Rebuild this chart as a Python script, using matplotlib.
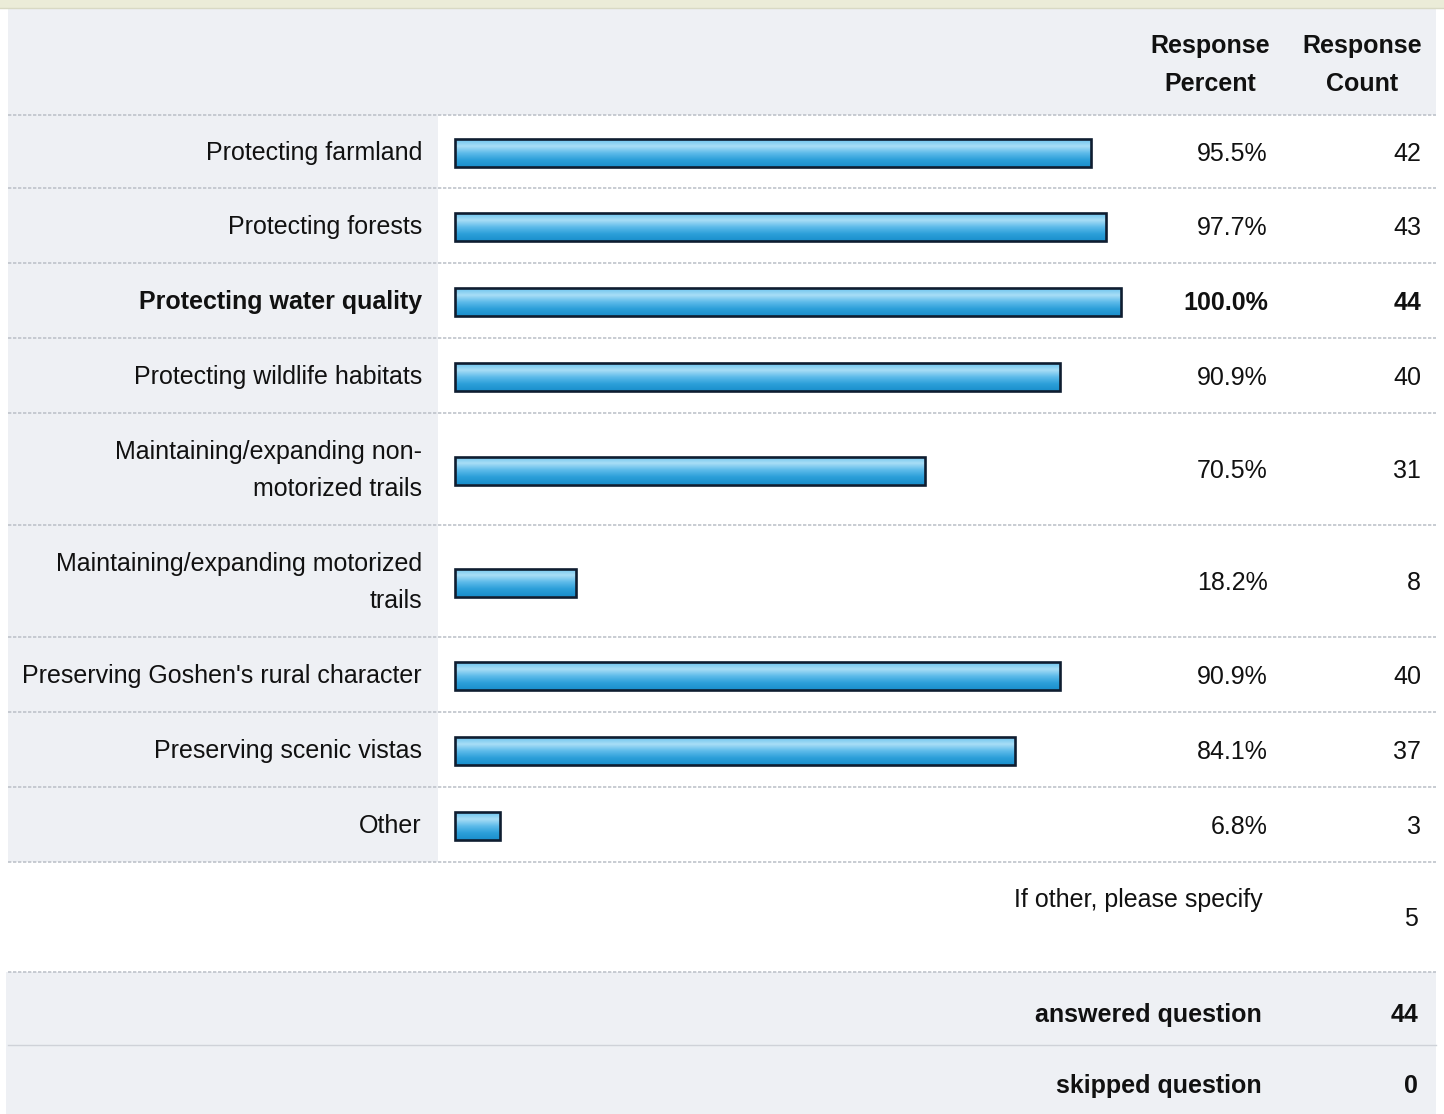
import matplotlib

matplotlib.use("Agg")
import matplotlib.pyplot as plt  # noqa: E402
import numpy as np  # noqa: E402
from matplotlib.colors import LinearSegmentedColormap  # noqa: E402
from matplotlib.patches import Rectangle  # noqa: E402

plt.rcParams["font.family"] = ["Liberation Sans", "DejaVu Sans"]

# --------------------------------------------------------------------------- #
# Data
# --------------------------------------------------------------------------- #
labels = [
    "Protecting farmland",
    "Protecting forests",
    "Protecting water quality",
    "Protecting wildlife habitats",
    "Maintaining/expanding non-\nmotorized trails",
    "Maintaining/expanding motorized\ntrails",
    "Preserving Goshen's rural character",
    "Preserving scenic vistas",
    "Other",
]
percents = [95.5, 97.7, 100.0, 90.9, 70.5, 18.2, 90.9, 84.1, 6.8]
counts = [42, 43, 44, 40, 31, 8, 40, 37, 3]
other_label = "If other, please specify"
other_count = 5
answered = 44
skipped = 0

# row separators (pixel rows of the survey table)
seps = [115, 188, 263, 338, 413, 525, 637, 712, 787, 862]
centers = [(a + b) / 2 + 1.5 for a, b in zip(seps[:-1], seps[1:])]
best = int(np.argmax(percents))

W, H = 1444, 1114
GRAY = "#eef0f4"
LINE = "#bfc3cb"
INK = "#111111"
FS = 18

fig = plt.figure(figsize=(W / 100, H / 100), dpi=100)
fig.patch.set_facecolor("white")

bg = fig.add_axes([0, 0, 1, 1])
bg.set_xlim(0, W)
bg.set_ylim(H, 0)
bg.axis("off")

# top strip + header
bg.add_patch(Rectangle((0, 0), W, 8, color="#ebecd8", lw=0))
bg.add_patch(Rectangle((8, 8), 1428, seps[0] - 8, color=GRAY, lw=0))
# label column background
bg.add_patch(Rectangle((8, seps[0]), 430, seps[-1] - seps[0], color=GRAY, lw=0))
# footer background
bg.add_patch(Rectangle((6, 972), 1430, H - 972, color=GRAY, lw=0))

for y in seps + [972]:
    bg.plot([8, 1436], [y, y], color=LINE, lw=1.2, ls=(0, (2, 1)))
bg.plot([8, 1436], [1045, 1045], color="#cfd2d8", lw=1.0)
bg.plot([0, W], [8, 8], color="#d8d9c4", lw=1.0)

# header
bg.text(1210, 65, "Response\nPercent", ha="center", va="center", fontsize=FS,
        fontweight="bold", linespacing=1.75, color=INK)
bg.text(1362, 65, "Response\nCount", ha="center", va="center", fontsize=FS,
        fontweight="bold", linespacing=1.75, color=INK)

for i, (lab, pct, cnt, yc) in enumerate(zip(labels, percents, counts, centers)):
    fw = "bold" if i == best else "normal"
    bg.text(422, yc, lab, ha="right", va="center", fontsize=FS, fontweight=fw,
            multialignment="right", linespacing=1.72, color=INK)
    bg.text(1268, yc + 1, f"{pct:.1f}%", ha="right", va="center", fontsize=FS,
            fontweight=fw, color=INK)
    bg.text(1421, yc + 1, str(cnt), ha="right", va="center", fontsize=FS,
            fontweight=fw, color=INK)

bg.text(1263, 900, other_label, ha="right", va="center", fontsize=FS, color=INK)
bg.text(1418, 919, str(other_count), ha="right", va="center", fontsize=FS, color=INK)
bg.text(1262, 1015, "answered question", ha="right", va="center", fontsize=FS,
        fontweight="bold", color=INK)
bg.text(1418, 1015, str(answered), ha="right", va="center", fontsize=FS,
        fontweight="bold", color=INK)
bg.text(1262, 1086, "skipped question", ha="right", va="center", fontsize=FS,
        fontweight="bold", color=INK)
bg.text(1418, 1086, str(skipped), ha="right", va="center", fontsize=FS,
        fontweight="bold", color=INK)

# --------------------------------------------------------------------------- #
# Bars: 0..100 % spans x = 455..1121 px
# --------------------------------------------------------------------------- #
x0, x1 = 455, 1121
ax = fig.add_axes([x0 / W, 0, (x1 - x0) / W, 1])
ax.patch.set_alpha(0)
ax.axis("off")

bar_h = 28
bars = ax.barh(centers, percents, height=bar_h, color="#3aaae0",
               edgecolor="none", zorder=3)

cmap = LinearSegmentedColormap.from_list(
    "bar", ["#69c3ee", "#a9def6", "#5dbbea", "#2c9fd9", "#1a8fcc"])
grad = np.linspace(0, 1, 64).reshape(-1, 1)
for b in bars:
    x, y = b.get_x(), b.get_y()
    w, h = b.get_width(), b.get_height()
    im = ax.imshow(grad, extent=[x, x + w, y + h, y], aspect="auto",
                   cmap=cmap, zorder=3.5, origin="upper")
    im.set_clip_path(b)
    edge = Rectangle((x, y), w, h, fill=False, edgecolor="#0f1d30",
                     linewidth=1.9, zorder=4, clip_on=False)
    ax.add_patch(edge)

ax.set_xlim(0, 100)
ax.set_ylim(H, 0)

fig.savefig("out.png", dpi=100)
